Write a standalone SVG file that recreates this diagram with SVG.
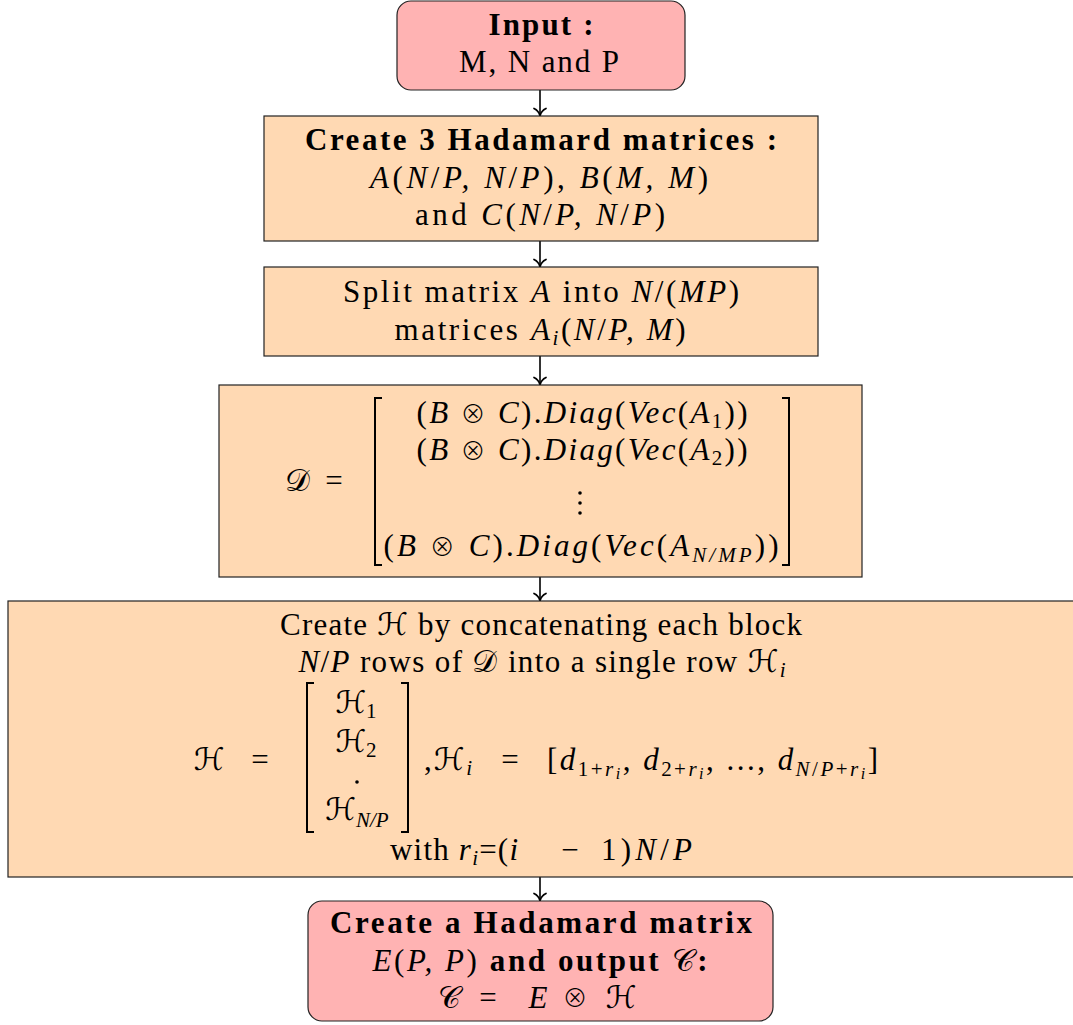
<svg xmlns="http://www.w3.org/2000/svg" width="1073" height="1025" viewBox="0 0 1073 1025">
  <defs>
    <marker id="tip" markerUnits="userSpaceOnUse" markerWidth="18" markerHeight="18" viewBox="-9 -9 18 18" refX="0" refY="0" orient="auto">
      <path d="M-7.5,-6 C-6,-2.6 -2.6,-0.6 0,0 C-2.6,0.6 -6,2.6 -7.5,6" fill="none" stroke="#000" stroke-width="1.7" stroke-linecap="round"/>
    </marker>
    <style>
      .box-o { fill: #ffd9b3; stroke: #222; stroke-width: 1.2; }
      .box-r { fill: #ffb3b3; stroke: #222; stroke-width: 1.2; }
      text { font-family: "Liberation Serif", "DejaVu Serif", serif; font-size: 31px; fill: #000; }
      .c { text-anchor: middle; }
      .b { font-weight: bold; }
      .i { font-style: italic; }
      .sub { font-size: 21px; }
      .sub2 { font-size: 16px; }
      .sym { font-family: "DejaVu Serif", "DejaVu Sans", serif; font-style: normal; }
      .otimes { font-family: "Noto Sans CJK JP", "DejaVu Sans", sans-serif; font-weight: 300; font-style: normal; font-size: 25px; }
      .brk { fill: none; stroke: #000; stroke-width: 2; }
      .edge { stroke: #000; stroke-width: 1.6; fill: none; marker-end: url(#tip); }
    </style>
  </defs>

  <!-- connectors -->
  <g id="connectors">
    <line class="edge" x1="540" y1="90" x2="540" y2="116"/>
    <line class="edge" x1="540" y1="241" x2="540" y2="267"/>
    <line class="edge" x1="540" y1="356" x2="540" y2="385"/>
    <line class="edge" x1="540" y1="577" x2="540" y2="601"/>
    <line class="edge" x1="540" y1="877" x2="540" y2="901"/>
  </g>

  <!-- input -->
  <g id="input">
    <rect class="box-r" x="397" y="1" width="288" height="89" rx="14"/>
    <text class="c b" x="541" y="35" textLength="105">Input :</text>
    <text class="c" x="539" y="72" textLength="160">M, N and P</text>
  </g>

  <!-- three Hadamard matrices -->
  <g id="create3">
    <rect class="box-o" x="264" y="116" width="554" height="125"/>
    <text class="c b" x="541" y="150" textLength="472">Create 3 Hadamard matrices :</text>
    <text class="c" x="539" y="188" textLength="338"><tspan class="i">A</tspan>(<tspan class="i">N</tspan>/<tspan class="i">P, N</tspan>/<tspan class="i">P</tspan>), <tspan class="i">B</tspan>(<tspan class="i">M, M</tspan>)</text>
    <text class="c" x="540" y="225" textLength="250">and <tspan class="i">C</tspan>(<tspan class="i">N</tspan>/<tspan class="i">P, N</tspan>/<tspan class="i">P</tspan>)</text>
  </g>

  <!-- split A -->
  <g id="split">
    <rect class="box-o" x="264" y="267" width="554" height="89"/>
    <text class="c" x="541" y="302" textLength="396">Split matrix <tspan class="i">A</tspan> into <tspan class="i">N</tspan>/(<tspan class="i">MP</tspan>)</text>
    <text class="c" x="540" y="340" textLength="291">matrices <tspan class="i">A</tspan><tspan class="i sub" dy="5">i</tspan><tspan dy="-5">(</tspan><tspan class="i">N</tspan>/<tspan class="i">P, M</tspan>)</text>
  </g>

  <!-- D matrix -->
  <g id="dmatrix">
    <rect class="box-o" x="219" y="385" width="643" height="192"/>
    <text class="c sym" x="297" y="491">𝒟</text>
    <text class="c" x="334" y="491">=</text>
    <path class="brk" d="M382,398 H375 V565 H382"/>
    <path class="brk" d="M782,398 H789 V565 H782"/>
    <text class="c" x="582" y="423" textLength="331">(<tspan class="i">B</tspan> <tspan class="otimes">⊗</tspan> <tspan class="i">C</tspan>).<tspan class="i">Diag</tspan>(<tspan class="i">Vec</tspan>(<tspan class="i">A</tspan><tspan class="sub" dy="5">1</tspan><tspan dy="-5">))</tspan></text>
    <text class="c" x="582" y="460" textLength="331">(<tspan class="i">B</tspan> <tspan class="otimes">⊗</tspan> <tspan class="i">C</tspan>).<tspan class="i">Diag</tspan>(<tspan class="i">Vec</tspan>(<tspan class="i">A</tspan><tspan class="sub" dy="5">2</tspan><tspan dy="-5">))</tspan></text>
    <circle cx="580" cy="493" r="1.8"/>
    <circle cx="580" cy="503" r="1.8"/>
    <circle cx="580" cy="513" r="1.8"/>
    <text class="c" x="581" y="556" textLength="395">(<tspan class="i">B</tspan> <tspan class="otimes">⊗</tspan> <tspan class="i">C</tspan>).<tspan class="i">Diag</tspan>(<tspan class="i">Vec</tspan>(<tspan class="i">A</tspan><tspan class="i sub" dy="6">N/MP</tspan><tspan dy="-6">))</tspan></text>
  </g>

  <!-- H construction -->
  <g id="hmatrix">
    <rect class="box-o" x="8" y="601" width="1070" height="276"/>
    <text class="c" x="541" y="635" textLength="522">Create <tspan class="sym">ℋ</tspan> by concatenating each block</text>
    <text class="c" x="542" y="672" textLength="487"><tspan class="i">N</tspan>/<tspan class="i">P</tspan> rows of <tspan class="sym">𝒟</tspan> into a single row <tspan class="sym">ℋ</tspan><tspan class="i sub" dy="5">i</tspan></text>
    <text class="c sym" x="209" y="770">ℋ</text>
    <text class="c" x="260" y="770">=</text>
    <path class="brk" d="M314,683 H307 V832 H314"/>
    <path class="brk" d="M401,683 H408 V832 H401"/>
    <text class="c" x="356" y="713"><tspan class="sym">ℋ</tspan><tspan class="sub" dy="5">1</tspan></text>
    <text class="c" x="356" y="752"><tspan class="sym">ℋ</tspan><tspan class="sub" dy="5">2</tspan></text>
    <circle cx="357" cy="782" r="1.8"/>
    <text class="c" x="357" y="820"><tspan class="sym">ℋ</tspan><tspan class="i sub" dy="7">N/P</tspan></text>
    <text x="424" y="770" textLength="48">,<tspan class="sym">ℋ</tspan><tspan class="i sub" dy="5">i</tspan></text>
    <text class="c" x="510" y="770">=</text>
    <text x="547" y="770" textLength="331">[<tspan class="i">d</tspan><tspan class="sub" dy="6">1+<tspan class="i">r</tspan><tspan class="i sub2" dy="3">i</tspan></tspan><tspan dy="-9">, </tspan><tspan class="i">d</tspan><tspan class="sub" dy="6">2+<tspan class="i">r</tspan><tspan class="i sub2" dy="3">i</tspan></tspan><tspan dy="-9">, ..., </tspan><tspan class="i">d</tspan><tspan class="sub" dy="6"><tspan class="i">N</tspan>/<tspan class="i">P</tspan>+<tspan class="i">r</tspan><tspan class="i sub2" dy="3">i</tspan></tspan><tspan dy="-9">]</tspan></text>
    <text x="390" y="860" textLength="128">with <tspan class="i">r</tspan><tspan class="i sub" dy="5">i</tspan><tspan dy="-5">=(</tspan><tspan class="i">i</tspan></text>
    <text class="c" x="570" y="860">−</text>
    <text x="601" y="860" textLength="91">1)<tspan class="i">N</tspan>/<tspan class="i">P</tspan></text>
  </g>

  <!-- output -->
  <g id="output">
    <rect class="box-r" x="308" y="901" width="465" height="120" rx="14"/>
    <text class="c b" x="541" y="933" textLength="422">Create a Hadamard matrix</text>
    <text class="c" x="540" y="971" textLength="335"><tspan class="i">E</tspan>(<tspan class="i">P, P</tspan>) <tspan class="b">and output</tspan> <tspan class="sym">𝒞</tspan><tspan class="b">:</tspan></text>
    <text class="c sym" x="449" y="1008">𝒞</text>
    <text class="c" x="488" y="1008">=</text>
    <text class="c i" x="538" y="1008">E</text>
    <text class="c otimes" x="575" y="1007">⊗</text>
    <text class="c sym" x="621" y="1008">ℋ</text>
  </g>
</svg>
